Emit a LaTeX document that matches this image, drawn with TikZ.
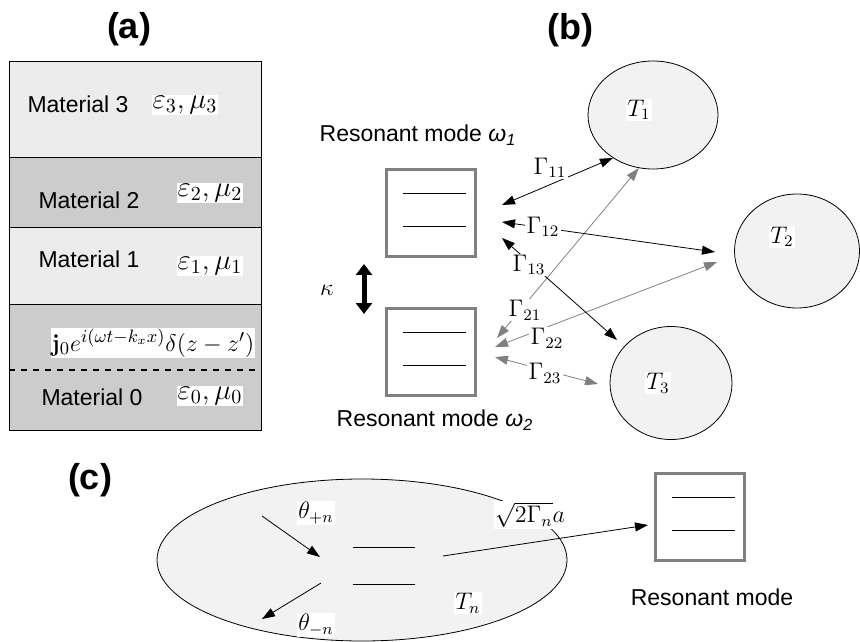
\documentclass[tikz,border=0pt]{standalone}
\usepackage{amsmath,amssymb}
\usepackage[no-math]{fontspec}
\setmainfont{Liberation Sans}
\usepackage{tikz}
\usetikzlibrary{arrows.meta,shapes,positioning}
\definecolor{laylight}{HTML}{ECECEC}
\definecolor{laydark}{HTML}{CCCCCC}
\definecolor{portfill}{HTML}{F2F2F2}

\begin{document}
\begin{tikzpicture}[x=0.5pt,y=-0.5pt,font=\fontsize{11.5}{13}\selectfont,
  >={Triangle[length=6.5pt,width=4.5pt]},
  mode/.style={draw=gray,line width=1.5pt,minimum width=44.5pt,minimum height=43.5pt,inner sep=0pt},
  port/.style={draw,ellipse,fill=portfill,inner sep=0pt},
  lab/.style={fill=white,inner sep=0.6pt},
  head/.style={font=\fontsize{18}{20}\selectfont\bfseries},
  eps/.style={fill=white,inner sep=0.5pt,font=\fontsize{14}{16}\selectfont}]
  \useasboundingbox (0,0) rectangle (860,641);

  \node[head] (ha) at (129,29) {(a)};
  \fill[laylight] (9,62) rectangle (261,158);
  \fill[laydark] (9,158) rectangle (261,228);
  \fill[laylight] (9,228) rectangle (261,304);
  \fill[laydark] (9,304) rectangle (261,430);
  \draw[line width=0.5pt] (9,62) rectangle (261,430);
  \draw[line width=0.5pt] (9,158) -- (261,158) (9,228) -- (261,228) (9,304) -- (261,304);
  \draw[line width=0.7pt,dashed] (9,370) -- (261,370);
  \node (mat3) at (78,104) {Material 3};
  \node[eps] (em3) at (185,105) {$\varepsilon_3,\mu_3$};
  \node (mat2) at (89,200) {Material 2};
  \node[eps] (em2) at (210,193) {$\varepsilon_2,\mu_2$};
  \node (mat1) at (89,259) {Material 1};
  \node[eps] (em1) at (210,266) {$\varepsilon_1,\mu_1$};
  \node[eps,font=\fontsize{13}{15}\selectfont] (src) at (153,343) {$\mathbf{j}_0e^{i(\omega t-k_xx)}\delta(z-z')$};
  \node (mat0) at (92,397) {Material 0};
  \node[eps] (em0) at (210,396) {$\varepsilon_0,\mu_0$};

  \node[head] (hb) at (570,30) {(b)};
  \node[mode] (m1) at (431,213) {};
  \node[mode] (m2) at (431,352) {};
  \node (t1) at (418,135) {Resonant mode \textit{ω\textsubscript{1}}};
  \node (t2) at (435,420) {Resonant mode \textit{ω\textsubscript{2}}};
  \node (kap) at (327,290) {$\kappa$};
  \draw[line width=2.5pt,{Triangle[length=5.5pt,width=8pt]}-{Triangle[length=5.5pt,width=8pt]}] (364,264) -- (364,314);
  \node[port,minimum width=65pt,minimum height=54pt] (T1) at (653,115) {};
  \node[port,minimum width=62.5pt,minimum height=57pt] (T2) at (797,251) {};
  \node[port,minimum width=61pt,minimum height=56.5pt] (T3) at (671,383) {};
  \node[lab] at (639,110) {$T_1$};
  \node[lab] at (782,237) {$T_2$};
  \node[lab] at (658,383) {$T_3$};

  \coordinate (a11) at (502,205); \coordinate (a12) at (502,222); \coordinate (a13) at (502,238);
  \coordinate (a21) at (497,338); \coordinate (a22) at (495,347); \coordinate (a23) at (495,357);
  \coordinate (b12) at (715,252); \coordinate (b13) at (617,340);
  \coordinate (b22) at (717,262); \coordinate (b23) at (598,384);
  \draw[<->,gray] (a21) -- (T1.255);
  \draw[<->,gray] (a22) -- (b22);
  \draw[<->,gray] (a23) -- (b23);
  \draw[<->] (a11) -- (T1.227);
  \draw[<->] (a12) -- (b12);
  \draw[<->] (a13) -- (b13);
  \node[lab] (g11) at (550,168) {$\Gamma_{11}$};
  \node[lab] (g12) at (543,227) {$\Gamma_{12}$};
  \node[lab] (g13) at (529,265) {$\Gamma_{13}$};
  \node[lab] (g21) at (525,310) {$\Gamma_{21}$};
  \node[lab] (g22) at (547,338) {$\Gamma_{22}$};
  \node[lab] (g23) at (545,373) {$\Gamma_{23}$};

  \node[head] (hc) at (90,480) {(c)};
  \node[port,minimum width=205pt,minimum height=81pt] (Tn) at (362,560) {};
  \draw (353,547) -- (415,547) (353,584) -- (415,584);
  \coordinate (pin) at (262,516); \coordinate (pout) at (321,583);
  \coordinate (cin) at (320,557); \coordinate (cout) at (262,619);
  \coordinate (rad) at (443,556); \coordinate (hit) at (648,525);
  \draw[->] (pin) -- (cin);
  \draw[->] (pout) -- (cout);
  \node[mode] (mc) at (700,517) {};
  \draw[->] (rad) -- (hit);
  \node[lab] (thp) at (316,513) {$\theta_{+n}$};
  \node[lab] (thm) at (316,625) {$\theta_{-n}$};
  \node[lab] (tn) at (468,603) {$T_n$};
  \node[lab] (amp) at (530,515) {$\sqrt{2\Gamma_n}a$};
  \node (tc) at (712,597) {Resonant mode};

  \foreach \m in {m1,m2,mc}
    \draw ([shift={(-28,-20)}]\m.center) -- ++(63,0) ([shift={(-28,13)}]\m.center) -- ++(63,0);
\end{tikzpicture}
\end{document}
